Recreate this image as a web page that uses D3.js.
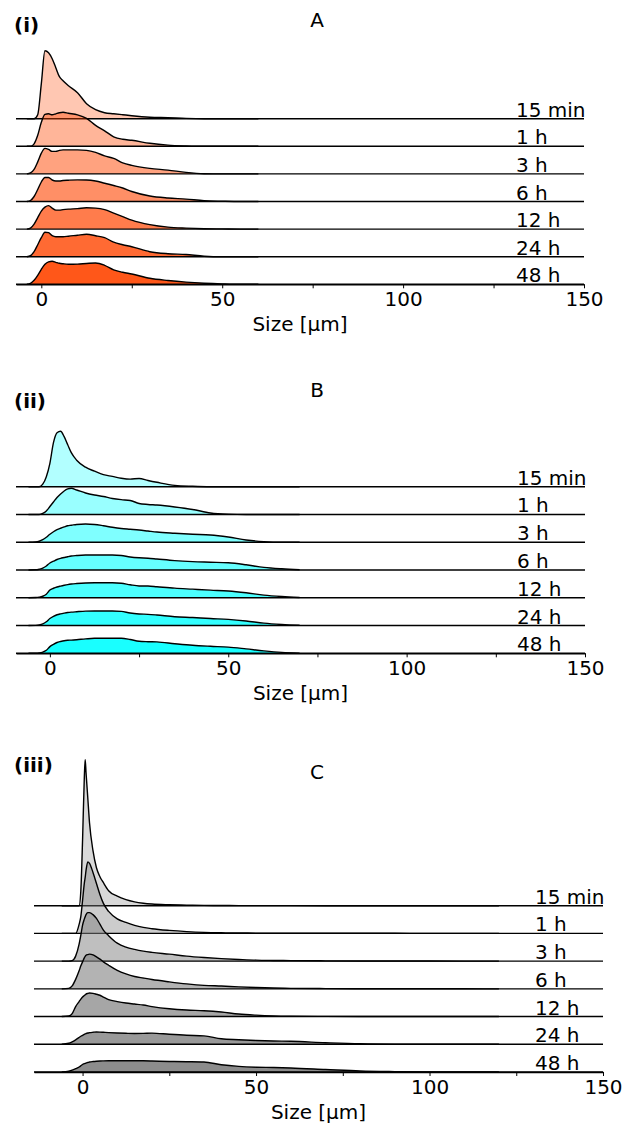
<!DOCTYPE html>
<html>
<head>
<meta charset="utf-8">
<script src="https://cdn.jsdelivr.net/npm/d3@7"></script>
<style>
  html, body { margin: 0; padding: 0; background: #fff; }
  svg { display: block; }
  text { font-family: "DejaVu Sans", sans-serif; fill: #000; }
</style>
</head>
<body>
<svg id="chart" width="625" height="1124"></svg>
<script>
// ---------- DATA ----------
const timeLabels = ["15 min", "1 h", "3 h", "6 h", "12 h", "24 h", "48 h"];
const tickValues = [0, 25, 50, 75, 100, 125, 150];
const tickLabels = ["0", "", "50", "", "100", "", "150"];
const axisTitle = "Size [µm]";
const panelTitles = ["A", "B", "C"];
const panelLetters = ["(i)", "(ii)", "(iii)"];
const alphas = [0.3, 0.4, 0.5, 0.6, 0.7, 0.8, 0.9];

// Panel A: size grid (µm) and relative density per time point
const sizesA = [-4, -3, -2, -1, 0, 1, 2, 3, 4, 5, 6, 7.5, 10, 12.5, 15, 17.5, 20, 22.5, 25, 30, 35, 40, 45, 50, 55, 60];
const densA_15m = [0, 0, 0, 4, 35, 68, 66, 60, 51, 42, 38, 33, 26, 15, 9, 6, 5, 4, 3, 1.5, 1, 0.3, 0, 0, 0, 0];
const densA_1h  = [0, 0, 2.5, 11, 24, 32, 32.5, 31.5, 32.5, 33.5, 34, 33, 31.5, 28, 21, 15.5, 9.5, 7, 6, 3, 1.2, 0.4, 0, 0, 0, 0];
const densA_3h  = [0, 1, 4.5, 12, 20.7, 25.5, 24.5, 22.5, 22.5, 23.5, 24, 24, 24, 23.5, 21.5, 18, 15.5, 11, 8.5, 5.5, 3.8, 1.5, 0.2, 0, 0, 0];
const densA_6h  = [0, 1, 5, 12, 19.5, 24, 24, 21.5, 20.5, 20.5, 21, 21.3, 21.6, 21.5, 20.5, 18.3, 16, 13.5, 10, 5.5, 3.5, 2.4, 0.8, 0.3, 0, 0];
const densA_12h = [0, 1, 5, 11.5, 18, 22, 23.5, 21, 19, 19, 19.5, 20, 20.5, 21.3, 21, 19.5, 16, 12.5, 9, 4.5, 2, 1, 0.4, 0.2, 0, 0];
const densA_24h = [0, 1, 5, 12, 19, 24.5, 24, 21, 20, 20, 20, 20.5, 21.5, 22.4, 21, 19, 14.5, 12, 10, 5, 3, 2.2, 0.5, 0, 0, 0];
const densA_48h = [0, 1, 4, 9, 15, 20, 22.5, 23, 22, 21, 20.5, 20, 20.2, 20.8, 21.3, 19, 14.5, 12, 10.3, 6, 3.8, 2.2, 1.1, 0.4, 0, 0];

// Panel B
const sizesB = [-6, -4, -3, -2, -1, 0, 1, 2, 3, 4, 5, 6, 7.5, 10, 12.5, 15, 17.5, 20, 22.5, 25, 27.5, 30, 35, 40, 45, 50, 55, 60, 65, 70];
const densB_15m = [0, 0, 0, 2.5, 10, 23.4, 44, 54, 55.5, 50, 42, 34, 26.5, 19.5, 15.5, 12, 10.3, 8.5, 7.6, 8.2, 6.2, 4.4, 1.3, 0.4, 0, 0, 0, 0, 0, 0];
const densB_1h  = [0, 0, 0, 1, 3.5, 8, 12.5, 17, 20.5, 23.5, 25.5, 26.2, 24.5, 21.5, 19.5, 18, 16, 14.8, 14, 11, 10, 9.4, 7.5, 5, 1.5, 0.3, 0, 0, 0, 0];
const densB_3h  = [0, 0.3, 1, 2.5, 5, 8, 10.5, 12.5, 14, 15.3, 16.5, 17, 17.8, 18.3, 17.8, 16.5, 15, 13.8, 13, 12.2, 11.2, 10.2, 9, 8, 7.3, 5.2, 2.3, 0.6, 0, 0];
const densB_6h  = [0, 0.2, 0.8, 1.8, 4, 7, 8.8, 10.5, 11.7, 12.5, 13.3, 14, 14.5, 15, 15, 15, 15, 14.5, 13, 12.2, 11.8, 11, 9.4, 8.4, 7.8, 7.2, 5.2, 2.6, 1.2, 0.3];
const densB_12h = [0, 0.2, 0.6, 1.5, 3.5, 7.7, 9.5, 10.8, 11.7, 12.5, 13.2, 13.7, 14.2, 14.8, 15, 15, 15, 14.5, 13, 11.8, 11.7, 11, 9.6, 8.6, 7.6, 6.8, 5, 2.6, 1.2, 0.3];
const densB_24h = [0, 0.2, 0.6, 1.6, 3.8, 7, 9.2, 10.8, 11.7, 12.4, 13, 13.4, 13.8, 14.4, 14.6, 14.6, 14.6, 14.2, 12.5, 11.6, 11.2, 10.5, 8.8, 8, 7, 6.2, 4.6, 2.4, 1.1, 0.3];
const densB_48h = [0, 0.1, 0.4, 1.2, 3, 6.7, 9, 10.8, 11.8, 12.6, 13, 13.2, 13.6, 14.4, 15, 15, 15, 15, 13.8, 12, 11.6, 11.4, 9.6, 8, 7, 6.2, 4.4, 2.4, 0.9, 0.2];

// Panel C
const sizesC = [-6, -4, -3, -2, -1, -0.5, 0, 0.5, 0.75, 1, 1.5, 2, 3, 4, 5, 6, 7.5, 10, 12.5, 15, 17.5, 20, 25, 30, 35, 40, 45, 50, 55, 60, 70, 80, 90, 100, 110, 120];
const densC_15m = [0, 0, 0, 0, 0, 15, 66, 128, 146, 133, 108, 83, 55, 38, 29, 23, 15, 9.5, 6, 3.8, 2.5, 1.7, 1, 0.6, 0.3, 0.2, 0.1, 0.1, 0.1, 0.05, 0, 0, 0, 0, 0, 0];
const densC_1h  = [0, 0, 0, 0, 9, 17, 33, 50, 56, 63, 71.5, 70, 61, 50, 39, 30, 22, 14.6, 11, 8, 6, 4.7, 3, 1.8, 1, 0.6, 0.4, 0.3, 0.2, 0.2, 0.1, 0.1, 0.1, 0.05, 0.05, 0];
const densC_3h  = [0, 0, 0.5, 5, 17, 26, 36, 42, 44.5, 46.5, 48.5, 48.5, 46.5, 42.7, 37, 31, 25.5, 18, 14, 11.7, 10, 8.8, 7, 5, 3.6, 2.5, 1.7, 1, 0.7, 0.5, 0.3, 0.2, 0.15, 0.1, 0.05, 0];
const densC_6h  = [0, 0.5, 3, 9.5, 18, 23, 27, 31, 32.5, 33.5, 34.3, 34.7, 34, 32, 29.7, 27, 23.6, 18.5, 15, 12.4, 10.8, 9.3, 7, 5, 3.5, 2.8, 2, 1.3, 0.8, 0.5, 0.25, 0.15, 0.1, 0.1, 0.05, 0];
const densC_12h = [0, 0.5, 3, 10, 15, 17.5, 19.5, 21, 21.8, 22.5, 23.2, 23.6, 23.2, 22.3, 21.3, 19.5, 17, 15, 13.5, 12.5, 11.5, 10, 7.8, 6.5, 5.8, 4.5, 2.5, 1.4, 0.7, 0.4, 0.2, 0.1, 0.1, 0.05, 0.05, 0];
const densC_24h = [0, 1, 2.5, 4.5, 6.8, 8, 9, 10, 10.5, 10.8, 11.3, 11.6, 12, 12.3, 12.2, 12, 11.7, 11.3, 11, 10.8, 10.9, 11.2, 10, 9, 8.4, 5.5, 4.6, 3.8, 3.3, 3, 1.6, 0.5, 0.15, 0.1, 0.05, 0];
const densC_48h = [0, 0.8, 1.8, 3.3, 5, 6.2, 7.5, 8.3, 8.7, 9, 9.5, 10, 10.5, 10.8, 11, 11.1, 11.2, 11.3, 11.3, 11.3, 11.2, 11, 10.5, 10.3, 10, 7.2, 5.6, 4.8, 4.5, 4, 2.5, 1, 0.4, 0.1, 0.05, 0];

// ---------- LAYOUT ----------
const panels = [
  { sizes: sizesA, series: [densA_15m, densA_1h, densA_3h, densA_6h, densA_12h, densA_24h, densA_48h],
    color: "#ff4500", xMin: -7, x0: 16, x1: 584, yTop: 118.7, yBottom: 284.3, titleY: 27, letterY: 32 },
  { sizes: sizesB, series: [densB_15m, densB_1h, densB_3h, densB_6h, densB_12h, densB_24h, densB_48h],
    color: "#00ffff", xMin: -9.5, x0: 16, x1: 585, yTop: 486.7, yBottom: 653.3, titleY: 397, letterY: 408 },
  { sizes: sizesC, series: [densC_15m, densC_1h, densC_3h, densC_6h, densC_12h, densC_24h, densC_48h],
    color: "#808080", xMin: -14, x0: 34, x1: 603, yTop: 905.7, yBottom: 1072, titleY: 779, letterY: 772 }
];

const svg = d3.select("#chart");

panels.forEach((p, pi) => {
  const g = svg.append("g");
  const x = d3.scaleLinear().domain([p.xMin, 150]).range([p.x0, p.x1]);
  const row = d3.scalePoint().domain(timeLabels).range([p.yTop, p.yBottom]);
  const h = d3.scaleLinear().domain([0, 100]).range([0, 100]);

  timeLabels.forEach((lab, i) => {
    const base = row(lab);
    const pts = p.sizes.map((s, k) => [s, p.series[i][k]]);
    const area = d3.area()
      .x(d => x(d[0]))
      .y0(base)
      .y1(d => base - h(d[1]))
      .curve(d3.curveMonotoneX);
    const line = d3.line()
      .x(d => x(d[0]))
      .y(d => base - h(d[1]))
      .curve(d3.curveMonotoneX);

    g.append("path").attr("d", area(pts))
      .attr("fill", p.color).attr("fill-opacity", alphas[i]).attr("stroke", "none");
    g.append("path").attr("d", line(pts))
      .attr("fill", "none").attr("stroke", "#000").attr("stroke-width", 1.4);
    g.append("line")
      .attr("x1", x(p.xMin)).attr("x2", x(150))
      .attr("y1", base).attr("y2", base)
      .attr("stroke", "#000").attr("stroke-width", 1.4);
    g.append("text")
      .attr("x", p.x1 - 68).attr("y", base - 2)
      .attr("font-size", 20).text(lab);
  });

  // bottom axis
  const axis = d3.axisBottom(x)
    .tickValues(tickValues)
    .tickSize(4)
    .tickSizeOuter(0)
    .tickPadding(4)
    .tickFormat((d, i) => tickLabels[i]);
  const ax = g.append("g").attr("transform", `translate(0,${p.yBottom})`).call(axis);
  ax.select(".domain").attr("stroke", "#000").attr("stroke-width", 1.4);
  ax.selectAll(".tick line").attr("stroke", "#000").attr("stroke-width", 1);
  ax.selectAll(".tick text").attr("font-size", 20).attr("font-family", "DejaVu Sans").attr("fill", "#000");

  g.append("text")
    .attr("x", (p.x0 + p.x1) / 2).attr("y", p.yBottom + 46.5)
    .attr("text-anchor", "middle").attr("font-size", 20)
    .text(axisTitle);

  g.append("text")
    .attr("x", 317).attr("y", p.titleY)
    .attr("text-anchor", "middle").attr("font-size", 20)
    .text(panelTitles[pi]);

  g.append("text")
    .attr("x", 14).attr("y", p.letterY)
    .attr("font-size", 20).attr("font-weight", "bold")
    .text(panelLetters[pi]);
});
</script>
</body>
</html>
